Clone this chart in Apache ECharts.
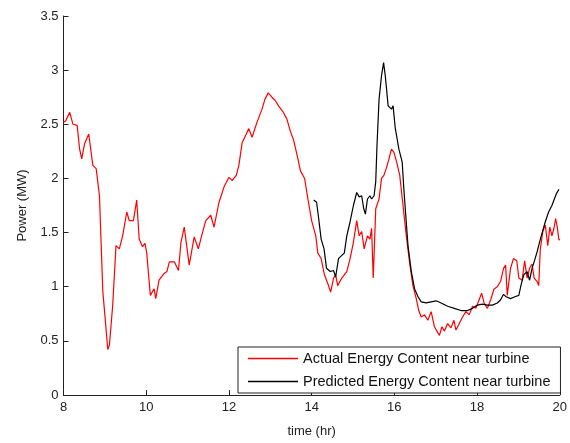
<!DOCTYPE html>
<html>
<head>
<meta charset="utf-8">
<script src="https://cdn.jsdelivr.net/npm/echarts@6/dist/echarts.min.js"></script>
<style>html,body{margin:0;padding:0;background:#fff}#c{width:570px;height:443px}</style>
</head>
<body>
<div id="c"></div>
<script>
const xTicks = [8, 10, 12, 14, 16, 18, 20];
const yTicks = [0, 0.5, 1, 1.5, 2, 2.5, 3, 3.5];
const seriesNames = ['Actual Energy Content near turbine', 'Predicted Energy Content near turbine'];

const actualTime = [8.00,8.05,8.15,8.23,8.33,8.39,8.44,8.51,8.61,8.71,8.79,8.87,8.91,8.95,9.00,9.07,9.11,9.19,9.27,9.35,9.43,9.53,9.59,9.69,9.77,9.83,9.91,9.97,10.01,10.10,10.19,10.23,10.31,10.43,10.50,10.56,10.68,10.78,10.84,10.92,11.04,11.16,11.26,11.34,11.44,11.56,11.64,11.76,11.88,12.00,12.08,12.18,12.24,12.32,12.42,12.48,12.56,12.68,12.80,12.87,12.95,13.04,13.12,13.20,13.30,13.40,13.49,13.56,13.64,13.73,13.83,13.91,14.00,14.10,14.15,14.23,14.31,14.39,14.46,14.53,14.58,14.63,14.73,14.85,14.93,15.01,15.09,15.15,15.21,15.27,15.35,15.41,15.45,15.49,15.55,15.63,15.69,15.75,15.81,15.87,15.93,15.99,16.05,16.13,16.21,16.29,16.37,16.45,16.53,16.59,16.65,16.73,16.81,16.89,16.97,17.03,17.09,17.15,17.21,17.29,17.37,17.44,17.49,17.57,17.65,17.73,17.81,17.89,17.97,18.05,18.11,18.17,18.25,18.33,18.41,18.49,18.57,18.64,18.69,18.73,18.81,18.88,18.96,19.01,19.09,19.15,19.21,19.27,19.33,19.38,19.45,19.49,19.53,19.59,19.65,19.71,19.76,19.81,19.86,19.90,19.94,19.98,20.00];
const actualPower = [2.52,2.53,2.61,2.50,2.49,2.27,2.18,2.32,2.41,2.12,2.09,1.84,1.40,0.96,0.74,0.42,0.46,0.83,1.38,1.35,1.47,1.69,1.61,1.61,1.80,1.44,1.37,1.40,1.32,0.92,0.98,0.89,1.06,1.12,1.14,1.23,1.23,1.15,1.41,1.55,1.20,1.46,1.35,1.47,1.61,1.66,1.55,1.78,1.92,2.01,1.98,2.03,2.12,2.33,2.41,2.46,2.38,2.52,2.64,2.73,2.79,2.75,2.72,2.67,2.62,2.55,2.43,2.36,2.23,2.07,2.00,1.81,1.61,1.47,1.31,1.26,1.11,1.03,0.95,1.08,1.11,1.01,1.08,1.14,1.26,1.41,1.61,1.47,1.51,1.35,1.47,1.44,1.54,1.08,1.72,1.81,2.00,2.03,2.10,2.18,2.27,2.24,2.16,2.03,1.75,1.47,1.22,1.01,0.89,0.78,0.72,0.74,0.69,0.77,0.63,0.59,0.55,0.63,0.59,0.66,0.62,0.69,0.60,0.66,0.72,0.77,0.74,0.82,0.80,0.88,0.94,0.85,0.80,0.88,0.98,1.00,1.05,1.17,1.20,0.92,1.17,1.26,1.24,1.08,1.06,1.24,1.08,1.17,1.21,1.08,1.05,1.01,1.35,1.51,1.57,1.38,1.55,1.47,1.54,1.63,1.55,1.43,1.44];

const predTime = [14.05,14.12,14.17,14.23,14.30,14.36,14.45,14.53,14.58,14.65,14.73,14.79,14.85,14.93,15.01,15.09,15.15,15.21,15.26,15.30,15.35,15.41,15.45,15.51,15.55,15.58,15.63,15.69,15.74,15.78,15.85,15.93,15.97,16.02,16.11,16.19,16.23,16.27,16.33,16.41,16.49,16.57,16.65,16.77,16.89,17.01,17.13,17.29,17.45,17.61,17.77,17.89,18.01,18.13,18.25,18.37,18.49,18.57,18.64,18.69,18.81,18.93,19.01,19.06,19.13,19.21,19.27,19.33,19.38,19.45,19.51,19.59,19.65,19.73,19.81,19.86,19.92,19.98];
const predPower = [1.80,1.78,1.63,1.44,1.35,1.17,1.14,1.15,1.09,1.26,1.29,1.31,1.47,1.60,1.75,1.87,1.83,1.84,1.72,1.67,1.81,1.84,1.81,1.84,1.97,2.30,2.73,2.95,3.07,2.95,2.67,2.64,2.67,2.47,2.27,2.15,1.90,1.69,1.38,1.14,0.98,0.91,0.86,0.85,0.86,0.87,0.85,0.82,0.80,0.78,0.78,0.80,0.83,0.84,0.83,0.83,0.85,0.88,0.93,0.91,0.89,0.91,0.92,1.01,1.11,1.14,1.06,1.17,1.23,1.32,1.41,1.52,1.60,1.69,1.75,1.80,1.86,1.90];

const zip = (a, b) => a.map((t, i) => [t, b[i]]);
const font = 'Liberation Sans, Arial, sans-serif';

const chart = echarts.init(document.getElementById('c'), null, {renderer: 'canvas'});
chart.setOption({
  animation: false,
  backgroundColor: '#fff',
  grid: {left: 63.5, right: 7, top: 16, bottom: 46, containLabel: false},
  xAxis: {
    type: 'value', min: xTicks[0], max: xTicks[xTicks.length - 1], interval: 2,
    name: 'time (hr)', nameLocation: 'middle', nameGap: 30,
    nameTextStyle: {fontFamily: font, fontSize: 13, color: '#222'},
    axisLine: {show: true, onZero: false, lineStyle: {color: '#222', width: 1}},
    axisTick: {show: true, inside: true, length: 5, lineStyle: {color: '#222'}},
    axisLabel: {fontFamily: font, fontSize: 13, color: '#222', margin: 6},
    splitLine: {show: false}
  },
  yAxis: {
    type: 'value', min: yTicks[0], max: yTicks[yTicks.length - 1], interval: 0.5,
    name: 'Power (MW)', nameLocation: 'middle', nameGap: 35,
    nameTextStyle: {fontFamily: font, fontSize: 13, color: '#222'},
    axisLine: {show: true, onZero: false, lineStyle: {color: '#222', width: 1}},
    axisTick: {show: true, inside: true, length: 5, lineStyle: {color: '#222'}},
    axisLabel: {fontFamily: font, fontSize: 13, color: '#222', margin: 5},
    splitLine: {show: false}
  },
  legend: {
    left: 238, top: 347, orient: 'vertical',
    data: seriesNames.map(n => ({name: n, icon: 'rect'})),
    itemWidth: 50, itemHeight: 1.5, itemGap: 6,
    padding: [3, 10, 3, 10],
    borderColor: '#222', borderWidth: 1, backgroundColor: '#fff',
    textStyle: {fontFamily: font, fontSize: 14.5, color: '#111', lineHeight: 17}
  },
  series: [
    {name: seriesNames[0], type: 'line', data: zip(actualTime, actualPower), showSymbol: false, symbol: 'none',
     lineStyle: {color: '#ff0000', width: 1.2}, itemStyle: {color: '#ff0000'}, z: 2},
    {name: seriesNames[1], type: 'line', data: zip(predTime, predPower), showSymbol: false, symbol: 'none',
     lineStyle: {color: '#000000', width: 1.2}, itemStyle: {color: '#000000'}, z: 3}
  ]
});
</script>
</body>
</html>
